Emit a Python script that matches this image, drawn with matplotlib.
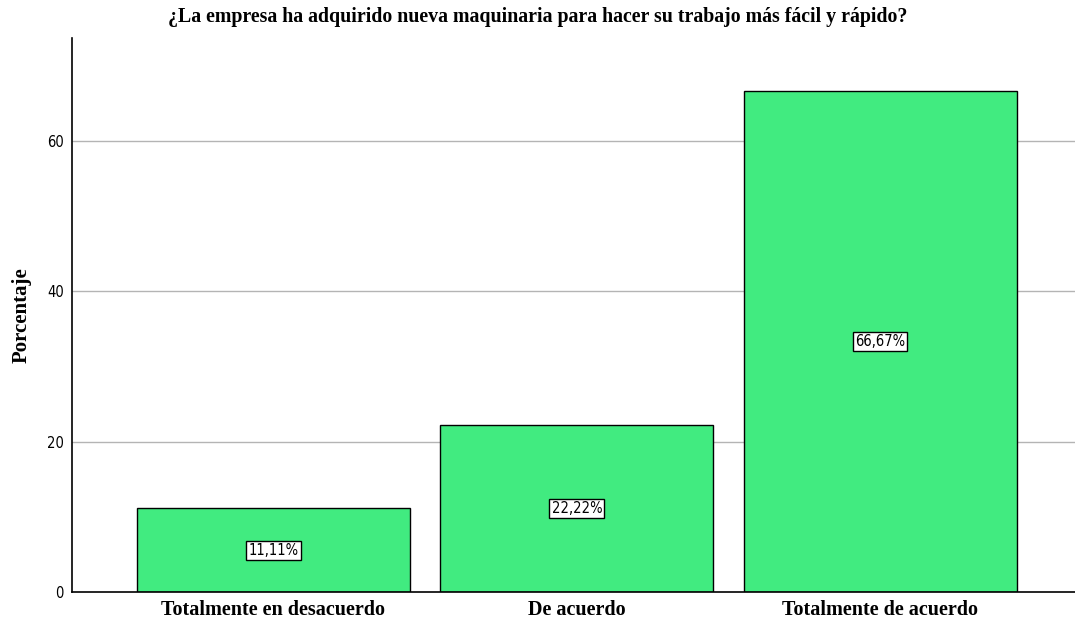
import matplotlib
matplotlib.use("Agg")
import matplotlib.pyplot as plt

categories = ["Totalmente en desacuerdo", "De acuerdo", "Totalmente de acuerdo"]
percentages = [11.11, 22.22, 66.67]
labels = ["11,11%", "22,22%", "66,67%"]
yticks = [0, 20, 40, 60]

fig = plt.figure(figsize=(10.75, 6.23), dpi=100)
ax = fig.add_axes([72/1075, 31/623, 1 - 72/1075, (592-38)/623])

x = list(range(len(categories)))
ax.bar(x, percentages, width=0.9, color="#41EB80", edgecolor="black", linewidth=1.0, zorder=3)
ax.set_xlim(-0.664, 2.642)
ax.set_ylim(0, 73.7)
ax.set_yticks(yticks)
ax.set_yticklabels([str(t) for t in yticks], family="DejaVu Sans", fontstretch="condensed", fontsize=10.5)
ax.tick_params(axis="y", length=0, pad=6)
ax.tick_params(axis="x", length=0, pad=6)
ax.set_xticks(x)
ax.set_xticklabels(categories, family=["Liberation Serif", "DejaVu Serif"], fontweight="bold", fontsize=14.5)
for t in yticks[1:]:
    ax.axhline(t, color="#b4b4b4", linewidth=1.0, zorder=1)
for s in ["top", "right"]:
    ax.spines[s].set_visible(False)
for s in ["left", "bottom"]:
    ax.spines[s].set_linewidth(1.2)
    ax.spines[s].set_zorder(4)
ax.set_ylabel("Porcentaje", family=["Liberation Serif", "DejaVu Serif"], fontweight="bold", fontsize=15)
ax.yaxis.set_label_coords(-40/1003, 0.5)

for xi, v, lab in zip(x, percentages, labels):
    ax.text(xi, v / 2, lab, ha="center", va="center", fontsize=10.5,
            family="DejaVu Sans", fontstretch="condensed", zorder=5,
            bbox=dict(boxstyle="square,pad=0.15", facecolor="white", edgecolor="black", linewidth=1.0))

fig.text(0.5, 1 - 17/623, "¿La empresa ha adquirido nueva maquinaria para hacer su trabajo más fácil y rápido?",
         ha="center", va="center", family=["Liberation Serif", "DejaVu Serif"], fontweight="bold", fontsize=14.3)

fig.savefig("out.png", dpi=100)
